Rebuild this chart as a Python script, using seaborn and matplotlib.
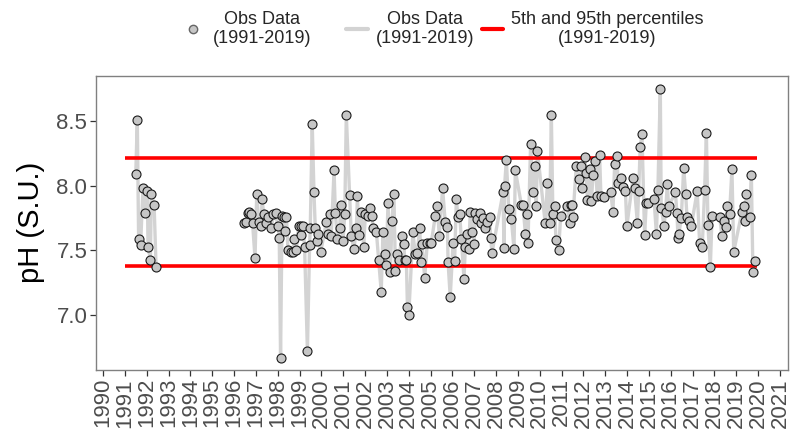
import matplotlib
matplotlib.use("Agg")
import matplotlib.pyplot as plt
from matplotlib.lines import Line2D
import pandas as pd
import seaborn as sns

# early record (1991-1992)
years_early = [1991.50, 1991.57, 1991.63, 1991.72, 1991.83, 1991.94, 1992.03, 1992.06,
               1992.17, 1992.21, 1992.34, 1992.43]
ph_early = [8.09, 8.51, 7.59, 7.54, 7.98, 7.79, 7.96, 7.53, 7.43, 7.94, 7.85, 7.37]

# main record (1996-2019)
years_late = [
    1996.46, 1996.55, 1996.65, 1996.70, 1996.76, 1996.85, 1996.96, 1997.04, 1997.13, 1997.25,
    1997.28, 1997.36, 1997.46, 1997.57, 1997.71, 1997.80, 1997.91, 1998.00, 1998.07, 1998.13,
    1998.20, 1998.28, 1998.33, 1998.40, 1998.47, 1998.59, 1998.70, 1998.75, 1998.85, 1998.96,
    1999.05, 1999.08, 1999.16, 1999.23, 1999.36, 1999.46, 1999.49, 1999.58, 1999.66, 1999.72,
    1999.81, 1999.84, 1999.97, 2000.23, 2000.30, 2000.38, 2000.45, 2000.58, 2000.64, 2000.73,
    2000.84, 2000.88, 2000.99, 2001.07, 2001.14, 2001.29, 2001.37, 2001.49, 2001.60, 2001.65,
    2001.72, 2001.80, 2001.94, 2002.01, 2002.13, 2002.24, 2002.32, 2002.36, 2002.52, 2002.62,
    2002.74, 2002.82, 2002.90, 2002.97, 2003.05, 2003.16, 2003.23, 2003.32, 2003.39, 2003.48,
    2003.54, 2003.69, 2003.78, 2003.81, 2003.89, 2003.94, 2004.00, 2004.19, 2004.30, 2004.39,
    2004.50, 2004.58, 2004.61, 2004.73, 2004.85, 2004.96, 2005.03, 2005.22, 2005.31, 2005.40,
    2005.55, 2005.67, 2005.77, 2005.80, 2005.90, 2006.03, 2006.10, 2006.18, 2006.25, 2006.33,
    2006.41, 2006.53, 2006.59, 2006.68, 2006.74, 2006.82, 2006.91, 2006.99, 2007.05, 2007.14,
    2007.25, 2007.32, 2007.40, 2007.51, 2007.60, 2007.70, 2007.75, 2007.81, 2008.32, 2008.36,
    2008.39, 2008.47, 2008.58, 2008.70, 2008.82, 2008.88, 2009.16, 2009.23, 2009.34, 2009.43,
    2009.46, 2009.58, 2009.69, 2009.77, 2009.84, 2009.89, 2010.25, 2010.35, 2010.45, 2010.53,
    2010.60, 2010.68, 2010.74, 2010.86, 2010.96, 2011.26, 2011.37, 2011.41, 2011.47, 2011.52,
    2011.67, 2011.78, 2011.87, 2011.93, 2012.05, 2012.13, 2012.18, 2012.28, 2012.36, 2012.44,
    2012.54, 2012.63, 2012.74, 2012.80, 2012.94, 2013.25, 2013.35, 2013.43, 2013.54, 2013.58,
    2013.70, 2013.81, 2013.92, 2013.99, 2014.27, 2014.34, 2014.47, 2014.53, 2014.60, 2014.68,
    2014.80, 2014.88, 2014.95, 2015.23, 2015.34, 2015.41, 2015.52, 2015.56, 2015.69, 2015.76,
    2015.84, 2015.90, 2016.21, 2016.28, 2016.33, 2016.37, 2016.48, 2016.59, 2016.68, 2016.74,
    2016.82, 2016.94, 2017.21, 2017.32, 2017.44, 2017.55, 2017.63, 2017.70, 2017.81, 2017.89,
    2018.24, 2018.34, 2018.43, 2018.51, 2018.57, 2018.69, 2018.80, 2018.88, 2019.26, 2019.35,
    2019.38, 2019.46, 2019.61, 2019.69, 2019.76, 2019.84,
]
ph_late = [
    7.71, 7.72, 7.79, 7.80, 7.78, 7.71, 7.44, 7.94, 7.72, 7.69,
    7.90, 7.78, 7.71, 7.76, 7.67, 7.78, 7.79, 7.69, 7.60, 6.67,
    7.77, 7.76, 7.65, 7.76, 7.50, 7.49, 7.49, 7.59, 7.50, 7.69,
    7.62, 7.69, 7.69, 7.53, 6.72, 7.54, 7.67, 8.48, 7.95, 7.67,
    7.57, 7.63, 7.49, 7.72, 7.63, 7.78, 7.61, 8.12, 7.79, 7.59,
    7.67, 7.85, 7.57, 7.78, 8.55, 7.93, 7.61, 7.51, 7.67, 7.92,
    7.62, 7.80, 7.53, 7.78, 7.77, 7.83, 7.77, 7.67, 7.64, 7.43,
    7.18, 7.64, 7.47, 7.39, 7.87, 7.33, 7.73, 7.94, 7.34, 7.47,
    7.43, 7.61, 7.55, 7.43, 7.43, 7.06, 7.00, 7.64, 7.47, 7.48,
    7.67, 7.41, 7.55, 7.29, 7.56, 7.56, 7.56, 7.77, 7.84, 7.61,
    7.98, 7.72, 7.68, 7.41, 7.14, 7.56, 7.42, 7.90, 7.76, 7.78,
    7.59, 7.28, 7.53, 7.63, 7.51, 7.80, 7.64, 7.55, 7.79, 7.74,
    7.79, 7.71, 7.75, 7.67, 7.72, 7.76, 7.60, 7.48, 7.95, 7.52,
    8.00, 8.20, 7.82, 7.74, 7.51, 8.12, 7.85, 7.85, 7.63, 7.78,
    7.56, 8.32, 7.95, 8.15, 7.84, 8.27, 7.71, 8.02, 7.71, 8.55,
    7.78, 7.84, 7.58, 7.50, 7.77, 7.84, 7.71, 7.85, 7.85, 7.76,
    8.15, 8.05, 8.15, 7.98, 8.22, 8.10, 7.89, 8.13, 7.88, 8.08,
    8.19, 7.92, 8.24, 7.92, 7.91, 7.95, 7.80, 8.17, 8.23, 8.02,
    8.06, 7.99, 7.96, 7.69, 8.06, 7.98, 7.71, 7.96, 8.30, 8.40,
    7.62, 7.87, 7.87, 7.90, 7.63, 7.97, 8.75, 7.83, 7.69, 7.80,
    8.01, 7.84, 7.95, 7.79, 7.60, 7.63, 7.75, 8.14, 7.94, 7.76,
    7.73, 7.69, 7.96, 7.56, 7.53, 7.97, 8.41, 7.70, 7.37, 7.77,
    7.76, 7.61, 7.73, 7.68, 7.84, 7.78, 8.13, 7.49, 7.80, 7.84,
    7.73, 7.94, 7.76, 8.08, 7.33, 7.42,
]

p05 = 7.38
p95 = 8.215
period_start = 1991.0
period_end = 2019.95
year_ticks = list(range(1990, 2022))
ph_ticks = [7.0, 7.5, 8.0, 8.5]

df = pd.concat([
    pd.DataFrame({"year": years_early, "ph": ph_early, "run": 1}),
    pd.DataFrame({"year": years_late, "ph": ph_late, "run": 2}),
], ignore_index=True)

sns.set_style("white")
plt.rcParams["font.family"] = ["Liberation Sans", "DejaVu Sans"]

fig, ax = plt.subplots(figsize=(7.9, 4.33), dpi=100)
fig.subplots_adjust(left=0.121, right=0.997, bottom=0.146, top=0.825)

sns.lineplot(data=df, x="year", y="ph", units="run", estimator=None,
             color="#d3d3d3", linewidth=2.4, ax=ax, legend=False, zorder=2)
for p in (p05, p95):
    ax.hlines(p, period_start, period_end, color="#ff0000", linewidth=2.6, zorder=3)
sns.scatterplot(data=df, x="year", y="ph", color="#c6c6c6", edgecolor="#1a1a1a",
                linewidth=0.8, s=42, ax=ax, legend=False, zorder=4)

ax.set_xlim(1989.66, 2021.35)
ax.set_ylim(6.578, 8.85)
ax.set_xticks(year_ticks)
ax.set_xticklabels([str(y) for y in year_ticks], rotation=90)
ax.set_yticks(ph_ticks)
ax.set_yticklabels([f"{v:.1f}" for v in ph_ticks])
ax.tick_params(axis="both", direction="out", length=4, width=0.9, color="#333333",
               labelsize=16, labelcolor="#4d4d4d", pad=2)
ax.tick_params(axis="both", which="both", bottom=True, left=True)
ax.set_xlabel("")
ax.set_ylabel("pH (S.U.)", fontsize=21, color="black", labelpad=8)
for side in ax.spines.values():
    side.set_visible(True)
    side.set_color("#808080")
    side.set_linewidth(1.0)

# legend: three separate entries placed like the ggplot top legend
entries = [
    (Line2D([], [], marker="o", linestyle="", markerfacecolor="#c6c6c6",
            markeredgecolor="#666666", markersize=6),
     "Obs Data\n(1991-2019)", 181, 1.3),
    (Line2D([], [], color="#d3d3d3", linewidth=3),
     "Obs Data\n(1991-2019)", 346, 1.2),
    (Line2D([], [], color="#ff0000", linewidth=3),
     "5th and 95th percentiles\n(1991-2019)", 482, 1.15),
]
for handle, label, left_px, hlen in entries:
    leg = fig.legend([handle], [label], loc="center left",
                     bbox_to_anchor=(left_px / 790, 1 - 29 / 433),
                     frameon=False, fontsize=13, handlelength=hlen,
                     handletextpad=0.45, borderpad=0, borderaxespad=0)
    for t in leg.get_texts():
        t.set_multialignment("center")

fig.savefig("out.png", dpi=100)
